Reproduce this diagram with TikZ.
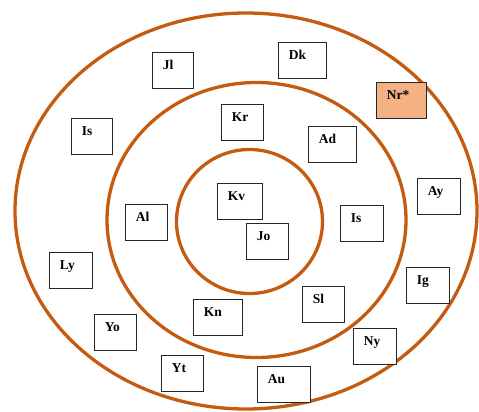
\documentclass[tikz,border=0pt]{standalone}
\usepackage{fontspec}
\setmainfont{Liberation Serif}
\definecolor{ring}{HTML}{C55A11}
\definecolor{mark}{HTML}{F4B183}
\tikzset{
  ringline/.style={draw=ring,line width=3.3pt},
  box/.style={draw=black!85,line width=0.8pt,fill=white,anchor=north west,
    inner xsep=10.5pt,inner ysep=0pt,text height=17.5pt,text depth=18.5pt,
    align=left,font=\bfseries\fontsize{13.5}{15}\selectfont}
}
\begin{document}
\begin{tikzpicture}[x=1pt,y=-1pt]
      \useasboundingbox (0,0) rectangle (479,412);
      \coordinate (outer) at (246,211);
      \coordinate (middle) at (256.5,220);
      \coordinate (inner) at (249.5,221.5);
      \draw[ringline] (outer) ellipse [x radius=231, y radius=198];
      \draw[ringline] (middle) ellipse [x radius=149.5, y radius=137.5];
      \draw[ringline] (inner) ellipse [x radius=73, y radius=72];
      % outer ring
      \node[box,text width=20pt] (jl) at (152,52) {Jl};
      \node[box,text width=27pt] (dk) at (278,42) {Dk};
      \node[box,text width=29pt,fill=mark] (nr) at (376,82) {Nr*};
      \node[box,text width=20pt] (isl) at (71,118) {Is};
      \node[box,text width=22pt] (ay) at (417,178) {Ay};
      \node[box,text width=22pt] (ly) at (49,252) {Ly};
      \node[box,text width=22pt] (ig) at (406,267) {Ig};
      \node[box,text width=21pt] (yo) at (94,314) {Yo};
      \node[box,text width=22pt] (ny) at (353,328) {Ny};
      \node[box,text width=21pt] (yt) at (161,355) {Yt};
      \node[box,text width=32pt] (au) at (257,366) {Au};
      % middle ring
      \node[box,text width=21pt] (kr) at (221,104) {Kr};
      \node[box,text width=27pt] (ad) at (308,126) {Ad};
      \node[box,text width=21pt] (al) at (125,204) {Al};
      \node[box,text width=22pt] (isr) at (340,205) {Is};
      \node[box,text width=21pt] (sl) at (302,286) {Sl};
      \node[box,text width=28pt] (kn) at (193,299) {Kn};
      % inner ring
      \node[box,text width=24pt] (kv) at (217,183) {Kv};
      \node[box,text width=21pt] (jo) at (246,223) {Jo};
\end{tikzpicture}
\end{document}
